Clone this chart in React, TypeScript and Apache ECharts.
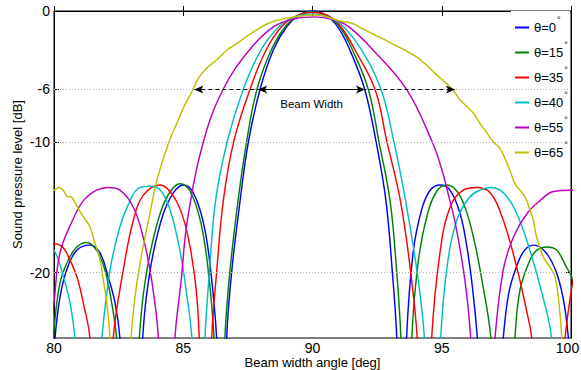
import { useEffect, useRef } from "react";
import * as echarts from "echarts";

const seriesNames = ["θ=0°", "θ=15°", "θ=35°", "θ=40°", "θ=55°", "θ=65°"];
const seriesColors = ["#0000ff", "#008000", "#ff0000", "#00bfbf", "#bf00bf", "#bfbf00"];
const yTicks = [0, -6, -10, -20];
const gridLevels = [-6, -10, -20];
const beamLevel = -6;
const wideBeam = [85.43, 95.51];
const narrowBeam = [87.9, 92.03];

const theta0 = [
  [79.8, -32], [80.04, -25], [80.23, -21.9], [80.49, -19.8], [80.88, -18.3], [81.39, -17.9], [81.78, -18.5], [82.09, -20.3], [82.36, -22.3], [82.55, -25],
  [83.0, -38], [83.43, -25], [83.57, -21.9], [83.84, -18.5], [84.23, -15.5], [84.62, -13.9], [85.0, -13.3], [85.39, -13.9], [85.78, -16.2], [86.03, -19.3], [86.29, -25],
  [86.5, -38], [86.68, -25], [86.87, -20], [87.2, -14.5], [87.52, -10], [87.97, -6], [88.48, -3], [89.0, -1.2], [89.5, -0.3], [90.0, 0], [90.5, -0.3], [90.97, -1.2], [91.45, -3], [92.02, -6], [92.46, -10], [92.84, -14.5], [93.09, -20], [93.26, -25],
  [93.45, -38], [93.64, -25], [93.89, -18.5], [94.22, -15.2], [94.55, -13.7], [94.95, -13.3], [95.32, -13.7], [95.71, -15.5], [95.97, -18], [96.18, -21], [96.38, -25],
  [96.9, -38], [97.38, -25], [97.6, -21.5], [97.9, -19.5], [98.2, -18.3], [98.57, -17.9], [99.0, -18.4], [99.4, -19.8], [99.7, -22], [99.9, -25], [100.2, -32],
];

const theta15 = [
  [79.8, -30], [80.0, -24.4], [80.23, -20.8], [80.55, -19.05], [80.88, -18.05], [81.26, -17.7], [81.65, -18.3], [81.97, -19.8], [82.23, -22.3], [82.42, -25],
  [82.85, -38], [83.3, -25], [83.46, -21.6], [83.73, -18.4], [84.12, -15.4], [84.5, -13.8], [84.87, -13.2], [85.27, -13.8], [85.67, -16.1], [85.93, -19.2], [86.19, -25],
  [86.4, -38], [86.61, -25], [86.8, -20], [87.12, -14.5], [87.45, -10], [87.85, -6], [88.4, -3], [88.95, -1.2], [89.5, -0.3], [90.0, -0.05], [90.5, -0.3], [91.05, -1.2], [91.55, -3], [92.16, -6], [92.57, -10], [93.0, -14.5], [93.26, -20], [93.42, -25],
  [93.63, -38], [93.84, -25], [94.1, -19], [94.45, -15.5], [94.8, -13.8], [95.19, -13.3], [95.6, -13.8], [95.95, -15.3], [96.25, -17.5], [96.52, -20.2], [96.9, -25],
  [97.35, -38], [97.83, -25], [98.03, -21.3], [98.41, -19.05], [98.67, -18.3], [99.06, -18.05], [99.45, -18.3], [99.83, -19.6], [100.0, -20.2], [100.2, -21.5],
];

const theta35 = [
  [79.6, -18.2], [80.04, -17.8], [80.3, -18.0], [80.49, -18.5], [80.88, -20.3], [81.13, -22.3], [81.39, -25],
  [81.85, -38], [82.29, -25], [82.68, -19.8], [83.07, -16], [83.45, -14.1], [84.1, -13.3], [84.6, -14.1], [84.98, -15.7], [85.26, -18], [85.5, -21.3], [85.62, -25],
  [85.86, -38], [86.1, -25], [86.29, -20], [86.55, -14.5], [86.95, -10], [87.58, -6], [88.2, -3], [88.8, -1.2], [89.4, -0.35], [90.0, -0.12], [90.6, -0.35], [91.1, -1.2], [91.65, -3], [92.42, -6], [92.88, -10], [93.4, -14.5], [93.8, -20], [94.05, -25],
  [94.35, -38], [94.61, -25], [94.93, -18.5], [95.32, -15], [95.83, -13.7], [96.35, -13.5], [96.87, -13.9], [97.38, -16], [97.9, -19.6], [98.28, -22.9], [98.48, -25],
  [99.1, -38], [99.77, -25], [100.0, -21.5], [100.2, -19.5],
];

const theta40 = [
  [79.5, -17.6], [80.0, -18.3], [80.36, -20.3], [80.62, -22.3], [80.81, -25],
  [81.3, -38], [81.85, -25], [82.17, -19.8], [82.55, -16.5], [82.94, -14.5], [83.32, -13.5], [83.75, -13.4], [84.12, -13.7], [84.49, -15.2], [84.87, -18.3], [85.13, -21.6], [85.33, -25],
  [85.58, -38], [85.84, -25], [86.01, -20], [86.25, -14.5], [86.7, -10], [87.32, -6], [88.0, -3], [88.7, -1.2], [89.3, -0.45], [90.0, -0.22], [90.6, -0.45], [91.2, -1.2], [91.9, -3], [92.65, -6], [93.15, -10], [93.6, -14.5], [94.05, -20], [94.33, -25],
  [94.65, -38], [94.96, -25], [95.19, -19.8], [95.58, -16], [96.09, -14.2], [96.48, -13.7], [96.87, -13.5], [97.38, -13.9], [97.9, -15.5], [98.41, -18.3], [98.92, -21.9], [99.25, -25],
  [99.8, -38], [100.3, -30],
];

const theta55 = [
  [79.8, -25.5], [80.0, -22.3], [80.23, -18.5], [80.72, -16], [81.14, -14.5], [81.65, -13.7], [82.1, -13.5], [82.55, -13.7], [83.07, -15], [83.45, -17.3], [83.78, -20.6], [84.04, -25],
  [84.36, -38], [84.68, -25], [84.92, -20.6], [85.16, -16], [85.78, -10], [86.54, -6], [87.55, -3], [88.5, -1.2], [89.3, -0.6], [90.1, -0.45], [90.8, -0.65], [91.4, -1.2], [92.35, -3], [93.64, -6], [94.63, -10], [95.0, -12.1], [95.25, -14], [95.5, -16], [95.8, -19.3], [96.0, -22.3], [96.12, -25],
  [96.6, -38], [97.06, -25], [97.38, -19.8], [97.77, -17.3], [98.29, -15.5], [98.8, -14.5], [99.32, -13.8], [100.0, -13.7], [100.3, -13.7],
];

const theta65 = [
  [79.8, -13.8], [80.0, -13.7], [80.2, -13.5], [80.39, -13.8], [80.52, -14.2], [80.65, -14.2], [80.77, -14.5], [80.97, -15.2], [81.16, -15.8], [81.39, -16.5], [81.59, -17.8], [81.78, -19], [81.91, -20.6], [82.04, -22.3], [82.17, -25],
  [82.57, -38], [82.98, -25], [83.13, -21.9], [83.33, -19.3], [83.52, -17.3], [83.71, -15.5], [83.9, -13.6], [84.13, -11.9], [84.45, -10], [84.77, -8.5], [85.03, -7.3], [85.22, -6.6], [85.4, -5.9], [85.6, -5.1], [85.91, -4.35], [86.29, -3.75], [86.68, -3.0], [87.07, -2.5], [87.45, -1.95], [87.84, -1.45], [88.16, -1.07], [88.48, -0.8], [89.0, -0.56], [89.52, -0.38], [90.1, -0.3],
  [90.48, -0.4], [91.0, -0.74], [91.52, -0.94], [92.03, -1.45], [92.55, -1.96], [93.06, -2.47], [93.58, -3.0], [94.09, -3.6], [94.48, -4.26], [94.74, -4.77], [95.1, -5.4], [95.42, -6], [95.71, -6.8], [95.97, -7.3], [96.22, -7.8], [96.48, -8.6], [96.74, -9.3], [96.99, -10], [97.25, -10.5], [97.45, -11.3], [97.64, -12.2], [97.83, -13.2], [98.03, -13.7], [98.22, -14.2], [98.41, -15.2], [98.54, -16], [98.67, -17.3], [98.93, -18.8], [99.19, -19.6], [99.38, -20.3], [99.51, -21.9], [99.64, -25],
  [99.85, -40], [100.2, -40],
];

const seriesData = [theta0, theta15, theta35, theta40, theta55, theta65];

const FONT = "'Liberation Sans', Arial, Helvetica, sans-serif";

export default function App() {
  const ref = useRef<HTMLDivElement>(null);

  useEffect(() => {
    if (!ref.current) return;
    const chart = echarts.init(ref.current, undefined, { renderer: "svg" });

    const curves = seriesData.map((d, i) => ({
      name: seriesNames[i],
      type: "line",
      data: d,
      symbol: "none",
      showSymbol: false,
      smooth: 0.4,
      clip: true,
      z: 2 + i * 0.01,
      lineStyle: { color: seriesColors[i], width: 1.45 },
      itemStyle: { color: seriesColors[i] },
      silent: true,
    }));

    const option: any = {
      animation: false,
      backgroundColor: "#ffffff",
      grid: {
        left: 54,
        right: 10,
        top: 11,
        bottom: 32,
        containLabel: false,
        outerBoundsMode: "none",
        show: true,
        borderColor: "#000",
        borderWidth: 1,
        backgroundColor: "transparent",
      },
      legend: {
        data: seriesNames,
        orient: "vertical",
        left: 511,
        top: 11,
        padding: [4, 2, 4, 4],
        itemGap: 0,
        itemWidth: 14,
        itemHeight: 2,
        icon: "rect",
        backgroundColor: "#ffffff",
        selectedMode: false,
        textStyle: {
          fontFamily: FONT,
          fontSize: 13,
          color: "#000",
          rich: {
            a: { fontFamily: FONT, fontSize: 13, color: "#000", lineHeight: 22.6 },
            s: { fontFamily: FONT, fontSize: 9, color: "#000", lineHeight: 9, padding: [0, 0, 16, 1] },
          },
        },
        formatter: (name: string) => `{a|${name.slice(0, -1)}}{s|°}`,
      },
      xAxis: [
        {
          type: "value",
          min: 80,
          max: 100,
          interval: 5,
          position: "bottom",
          name: "Beam width angle [deg]",
          nameLocation: "middle",
          nameGap: 17,
          nameMoveOverlap: false,
          nameTextStyle: { fontFamily: FONT, fontSize: 13, lineHeight: 14, color: "#000", verticalAlign: "top" },
          axisLine: { show: true, lineStyle: { color: "#000", width: 1 } },
          axisTick: { show: true, inside: true, length: 5, lineStyle: { color: "#000" } },
          axisLabel: {
            fontFamily: FONT,
            fontSize: 14,
            lineHeight: 14,
            color: "#000",
            margin: 3,
            formatter: (v: number) => (v === 100 ? `{r|${v}}` : `${v}`),
            rich: { r: { fontFamily: FONT, fontSize: 14, lineHeight: 14, color: "#000", padding: [0, 7, 0, 0] } },
          },
          splitLine: { show: false },
        },
        {
          type: "value",
          min: 80,
          max: 100,
          interval: 5,
          position: "top",
          axisLine: { show: true, lineStyle: { color: "#000", width: 1 } },
          axisTick: { show: true, inside: true, length: 5, lineStyle: { color: "#000" } },
          axisLabel: { show: false },
          splitLine: { show: false },
        },
      ],
      yAxis: [
        {
          type: "value",
          min: -25,
          max: 0,
          position: "left",
          name: "Sound pressure level [dB]",
          nameLocation: "middle",
          nameGap: 30,
          nameMoveOverlap: false,
          nameTextStyle: { fontFamily: FONT, fontSize: 13, color: "#000" },
          axisLine: { show: true, lineStyle: { color: "#000", width: 1 } },
          axisTick: { show: true, inside: true, length: 5, customValues: yTicks, lineStyle: { color: "#000" } },
          axisLabel: { fontFamily: FONT, fontSize: 14, color: "#000", margin: 4, customValues: yTicks },
          splitLine: { show: false },
        },
        {
          type: "value",
          min: -25,
          max: 0,
          position: "right",
          axisLine: { show: true, lineStyle: { color: "#000", width: 1 } },
          axisTick: { show: true, inside: true, length: 5, customValues: yTicks, lineStyle: { color: "#000" } },
          axisLabel: { show: false, customValues: yTicks },
          splitLine: { show: false },
        },
      ],
      series: [
        {
          name: "grid",
          type: "line",
          data: [],
          z: 1,
          silent: true,
          markLine: {
            silent: true,
            symbol: "none",
            animation: false,
            label: { show: false },
            lineStyle: { color: "#b0b0b0", width: 1, type: [1, 2] },
            emphasis: { disabled: true },
            data: gridLevels.map((v) => ({ yAxis: v })),
          },
        },
        ...curves,
        {
          name: "beam",
          type: "line",
          data: [],
          z: 5,
          silent: true,
          markLine: {
            silent: true,
            animation: false,
            symbol: ["arrow", "arrow"],
            symbolSize: [6, 9],
            emphasis: { disabled: true },
            data: [
              [
                {
                  coord: [wideBeam[0], beamLevel],
                  lineStyle: { color: "#000", width: 1, type: [4, 3] },
                  itemStyle: { color: "#000" },
                  label: { show: false },
                },
                { coord: [wideBeam[1], beamLevel] },
              ],
              [
                {
                  coord: [narrowBeam[0], beamLevel],
                  lineStyle: { color: "#000", width: 1.2, type: "solid" },
                  itemStyle: { color: "#000" },
                  label: {
                    show: true,
                    position: "insideMiddleBottom",
                    formatter: "Beam Width",
                    fontFamily: FONT,
                    fontSize: 11.5,
                    color: "#000",
                    distance: 9,
                  },
                },
                { coord: [narrowBeam[1], beamLevel] },
              ],
            ],
          },
        },
      ],
    };

    chart.setOption(option);
    return () => chart.dispose();
  }, []);

  return (
    <div
      ref={ref}
      style={{ position: "fixed", left: 0, top: 0, width: 581, height: 370, background: "#fff" }}
    />
  );
}
